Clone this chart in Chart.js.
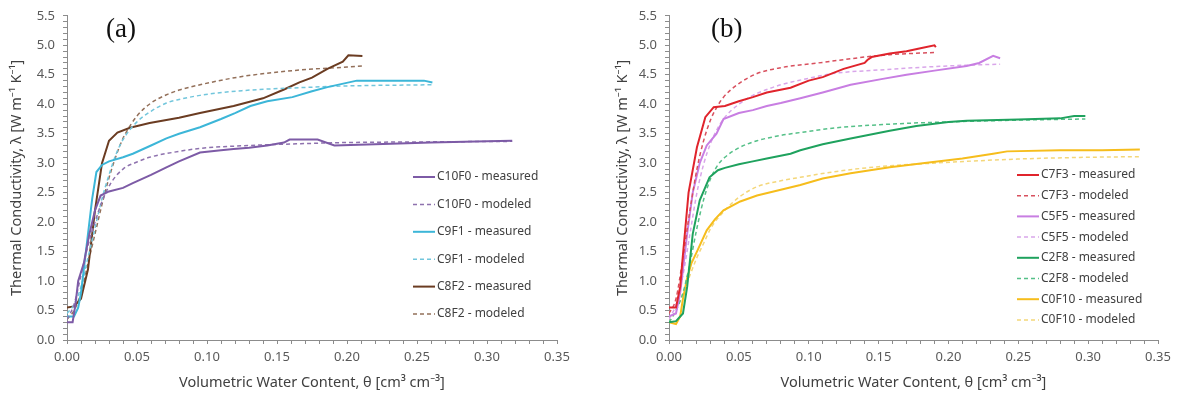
<!DOCTYPE html>
<html>
<head>
<meta charset="utf-8">
<script src="https://cdn.jsdelivr.net/npm/chart.js@4.4.1/dist/chart.umd.min.js"></script>
<style>
  html, body { margin: 0; padding: 0; background: #fff; }
  .row { display: flex; width: 1177px; height: 400px; }
</style>
</head>
<body>
<div class="row">
  <canvas id="chartA" width="590" height="400"></canvas>
  <canvas id="chartB" width="587" height="400"></canvas>
</div>
<script>
// panel (a) series, [theta, lambda]
const c10f0Measured = [[0,0.3],[0.004,0.3],[0.006,0.6],[0.008,1.0],[0.012,1.3],[0.016,1.8],[0.02,2.2],[0.024,2.45],[0.03,2.52],[0.04,2.58],[0.047,2.66],[0.06,2.8],[0.071,2.93],[0.08,3.03],[0.095,3.18],[0.11,3.22],[0.119,3.24],[0.13,3.26],[0.143,3.3],[0.155,3.35],[0.159,3.4],[0.179,3.4],[0.191,3.3],[0.22,3.32],[0.26,3.35],[0.3,3.37],[0.318,3.38]];
const c10f0Modeled = [[0,0.35],[0.005,0.6],[0.01,1.1],[0.015,1.6],[0.02,2.0],[0.025,2.35],[0.031,2.65],[0.04,2.9],[0.05,3.02],[0.059,3.1],[0.08,3.2],[0.095,3.25],[0.13,3.3],[0.167,3.33],[0.2,3.35],[0.25,3.36],[0.318,3.37]];
const c9f1Measured = [[0,0.4],[0.005,0.4],[0.008,0.55],[0.01,0.8],[0.015,1.8],[0.018,2.4],[0.021,2.85],[0.025,2.97],[0.03,3.03],[0.04,3.1],[0.047,3.16],[0.06,3.3],[0.071,3.42],[0.08,3.5],[0.095,3.61],[0.11,3.75],[0.12,3.85],[0.131,3.97],[0.143,4.05],[0.161,4.12],[0.175,4.22],[0.186,4.29],[0.207,4.4],[0.23,4.4],[0.255,4.4],[0.261,4.37]];
const c9f1Modeled = [[0,0.45],[0.005,0.6],[0.01,0.9],[0.015,1.4],[0.02,1.9],[0.025,2.4],[0.03,2.8],[0.035,3.15],[0.04,3.4],[0.05,3.7],[0.06,3.88],[0.071,4.02],[0.08,4.08],[0.095,4.15],[0.125,4.23],[0.166,4.28],[0.2,4.31],[0.261,4.33]];
const c8f2Measured = [[0,0.55],[0.005,0.57],[0.01,0.7],[0.015,1.2],[0.02,2.2],[0.025,3.0],[0.03,3.38],[0.036,3.52],[0.045,3.6],[0.059,3.68],[0.08,3.77],[0.095,3.85],[0.119,3.97],[0.14,4.1],[0.155,4.25],[0.166,4.37],[0.175,4.45],[0.186,4.6],[0.197,4.72],[0.201,4.83],[0.211,4.82]];
const c8f2Modeled = [[0,0.35],[0.005,0.5],[0.01,0.8],[0.015,1.3],[0.02,1.8],[0.025,2.3],[0.03,2.75],[0.035,3.12],[0.04,3.42],[0.05,3.8],[0.06,4.02],[0.071,4.16],[0.08,4.24],[0.095,4.33],[0.125,4.47],[0.166,4.58],[0.2,4.63],[0.211,4.65]];

// panel (b) series
const c7f3Measured = [[0,0.55],[0.005,0.55],[0.008,0.9],[0.01,1.45],[0.014,2.5],[0.02,3.27],[0.026,3.78],[0.032,3.95],[0.04,3.97],[0.05,4.05],[0.06,4.12],[0.07,4.2],[0.087,4.28],[0.1,4.4],[0.11,4.46],[0.125,4.6],[0.14,4.7],[0.142,4.75],[0.145,4.8],[0.158,4.86],[0.17,4.9],[0.18,4.95],[0.19,5.0],[0.191,4.97]];
const c7f3Modeled = [[0,0.45],[0.005,0.7],[0.01,1.4],[0.015,2.2],[0.02,2.9],[0.025,3.4],[0.03,3.75],[0.035,3.98],[0.039,4.12],[0.05,4.35],[0.063,4.52],[0.08,4.62],[0.11,4.71],[0.14,4.8],[0.158,4.84],[0.191,4.88]];
const c5f5Measured = [[0,0.4],[0.005,0.45],[0.008,0.8],[0.01,1.2],[0.013,1.8],[0.017,2.5],[0.022,3.0],[0.027,3.3],[0.034,3.5],[0.039,3.75],[0.05,3.85],[0.06,3.9],[0.07,3.97],[0.08,4.02],[0.094,4.1],[0.11,4.2],[0.13,4.33],[0.153,4.43],[0.17,4.5],[0.19,4.57],[0.213,4.65],[0.222,4.7],[0.232,4.82],[0.237,4.78]];
const c5f5Modeled = [[0,0.35],[0.005,0.6],[0.01,1.1],[0.015,1.8],[0.02,2.5],[0.025,3.0],[0.03,3.35],[0.035,3.6],[0.04,3.78],[0.05,4.0],[0.06,4.15],[0.07,4.25],[0.08,4.33],[0.1,4.44],[0.117,4.52],[0.15,4.58],[0.2,4.65],[0.237,4.68]];
const c2f8Measured = [[0,0.3],[0.005,0.32],[0.01,0.45],[0.013,0.9],[0.017,1.8],[0.022,2.37],[0.029,2.76],[0.035,2.88],[0.04,2.92],[0.05,2.98],[0.06,3.03],[0.07,3.08],[0.087,3.16],[0.094,3.22],[0.11,3.32],[0.13,3.42],[0.158,3.55],[0.177,3.63],[0.2,3.7],[0.213,3.72],[0.25,3.74],[0.28,3.76],[0.29,3.8],[0.298,3.8]];
const c2f8Modeled = [[0,0.3],[0.005,0.5],[0.01,0.8],[0.015,1.3],[0.02,1.9],[0.025,2.4],[0.03,2.75],[0.035,2.97],[0.04,3.1],[0.05,3.26],[0.063,3.38],[0.08,3.47],[0.094,3.52],[0.12,3.6],[0.165,3.67],[0.2,3.7],[0.25,3.73],[0.298,3.75]];
const c0f10Measured = [[0,0.3],[0.005,0.27],[0.008,0.4],[0.01,0.7],[0.013,1.05],[0.016,1.3],[0.02,1.5],[0.027,1.86],[0.033,2.05],[0.039,2.2],[0.051,2.35],[0.063,2.45],[0.08,2.55],[0.094,2.63],[0.11,2.74],[0.13,2.83],[0.158,2.93],[0.189,3.02],[0.21,3.08],[0.232,3.16],[0.242,3.2],[0.28,3.22],[0.31,3.22],[0.337,3.23]];
const c0f10Modeled = [[0,0.3],[0.005,0.5],[0.01,0.8],[0.015,1.1],[0.02,1.4],[0.025,1.65],[0.03,1.9],[0.04,2.2],[0.05,2.42],[0.063,2.6],[0.08,2.7],[0.094,2.76],[0.12,2.86],[0.15,2.94],[0.189,3.0],[0.25,3.07],[0.3,3.1],[0.337,3.11]];

const xTitle = 'Volumetric Water Content, θ [cm³ cm⁻³]';
const yTitle = 'Thermal Conductivity, λ [W m⁻¹ K⁻¹]';

const fam = "'Noto Sans', 'Liberation Sans', sans-serif";

function toPts(arr) {
  return arr.map(p => ({ x: p[0], y: p[1] }));
}

function measured(label, arr, color) {
  return { label: label, data: toPts(arr), borderColor: color, borderWidth: 2,
    pointRadius: 0, fill: false, tension: 0 };
}
function modeled(label, arr, color) {
  return { label: label, data: toPts(arr), borderColor: color, borderWidth: 1.5,
    borderDash: [4, 3], pointRadius: 0, fill: false, cubicInterpolationMode: 'monotone' };
}

// legend drawn inside the plot area, like the excel one
const insideLegend = {
  id: 'insideLegend',
  afterDraw(chart, args, opts) {
    const ctx = chart.ctx;
    ctx.save();
    ctx.font = '12px ' + fam;
    ctx.textBaseline = 'middle';
    chart.data.datasets.forEach((ds, i) => {
      const y = opts.top + i * opts.step;
      ctx.strokeStyle = ds.borderColor;
      ctx.lineWidth = ds.borderWidth;
      ctx.setLineDash(ds.borderDash || []);
      ctx.beginPath();
      ctx.moveTo(opts.left, y);
      ctx.lineTo(opts.left + 22, y);
      ctx.stroke();
      ctx.setLineDash([]);
      ctx.fillStyle = '#404040';
      ctx.fillText(ds.label, opts.left + 24, y);
    });
    ctx.restore();
  }
};

const panelTag = {
  id: 'panelTag',
  afterDraw(chart, args, opts) {
    const ctx = chart.ctx;
    ctx.save();
    ctx.font = "27px 'Liberation Serif', serif";
    ctx.fillStyle = '#111';
    ctx.textBaseline = 'middle';
    ctx.fillText(opts.text, opts.x, opts.y);
    ctx.restore();
  }
};

function makeOptions(pad, yWidth, legendOpts, tagOpts) {
  return {
    responsive: false,
    animation: false,
    layout: { padding: pad },
    plugins: {
      legend: { display: false },
      tooltip: { enabled: false },
      insideLegend: legendOpts,
      panelTag: tagOpts
    },
    scales: {
      x: {
        type: 'linear', min: 0, max: 0.35,
        afterFit(scale) { scale.height = 60; },
        border: { color: '#8c8c8c', width: 1 },
        grid: { drawOnChartArea: false, tickLength: 4, color: '#8c8c8c' },
        ticks: {
          stepSize: 0.01, autoSkip: false, maxRotation: 0, padding: 5,
          color: '#595959', font: { family: fam, size: 13 },
          callback: v => (Math.round(v * 100) % 5 === 0 ? v.toFixed(2) : '')
        },
        title: { display: true, text: xTitle, color: '#404040',
          font: { family: fam, size: 14.5 }, padding: { top: 0, bottom: 8 } }
      },
      y: {
        min: 0, max: 5.5,
        afterFit(scale) { scale.width = yWidth; },
        border: { color: '#8c8c8c', width: 1 },
        grid: { drawOnChartArea: false, tickLength: 4, color: '#8c8c8c' },
        ticks: {
          stepSize: 0.1, autoSkip: false, padding: 8,
          color: '#595959', font: { family: fam, size: 13 },
          callback: v => (Math.round(v * 10) % 5 === 0 ? v.toFixed(1) : '')
        },
        title: { display: true, text: yTitle, color: '#404040',
          font: { family: fam, size: 14.5 }, padding: { top: 8, bottom: 0 } }
      }
    }
  };
}

new Chart(document.getElementById('chartA').getContext('2d'), {
  type: 'line',
  data: {
    datasets: [
      measured('C10F0 - measured', c10f0Measured, '#7d5ba6'),
      modeled('C10F0 - modeled', c10f0Modeled, '#8e72ae'),
      measured('C9F1 - measured', c9f1Measured, '#3cb6d8'),
      modeled('C9F1 - modeled', c9f1Modeled, '#72c6dc'),
      measured('C8F2 - measured', c8f2Measured, '#6b3c22'),
      modeled('C8F2 - modeled', c8f2Modeled, '#93705a')
    ]
  },
  options: makeOptions({ top: 15, right: 33, left: 0, bottom: 0 }, 67,
    { left: 413, top: 177, step: 27.4 }, { text: '(a)', x: 106, y: 30 }),
  plugins: [insideLegend, panelTag]
});

new Chart(document.getElementById('chartB').getContext('2d'), {
  type: 'line',
  data: {
    datasets: [
      measured('C7F3 - measured', c7f3Measured, '#e0242c'),
      modeled('C7F3 - modeled', c7f3Modeled, '#d8505e'),
      measured('C5F5 - measured', c5f5Measured, '#c87ee2'),
      modeled('C5F5 - modeled', c5f5Modeled, '#d9a6ea'),
      measured('C2F8 - measured', c2f8Measured, '#1fa25e'),
      modeled('C2F8 - modeled', c2f8Modeled, '#55c088'),
      measured('C0F10 - measured', c0f10Measured, '#f6bd1c'),
      modeled('C0F10 - modeled', c0f10Modeled, '#f4d77a')
    ]
  },
  options: makeOptions({ top: 15, right: 19, left: 16, bottom: 0 }, 63,
    { left: 427, top: 175, step: 20.7 }, { text: '(b)', x: 121, y: 30 }),
  plugins: [insideLegend, panelTag]
});
</script>
</body>
</html>
